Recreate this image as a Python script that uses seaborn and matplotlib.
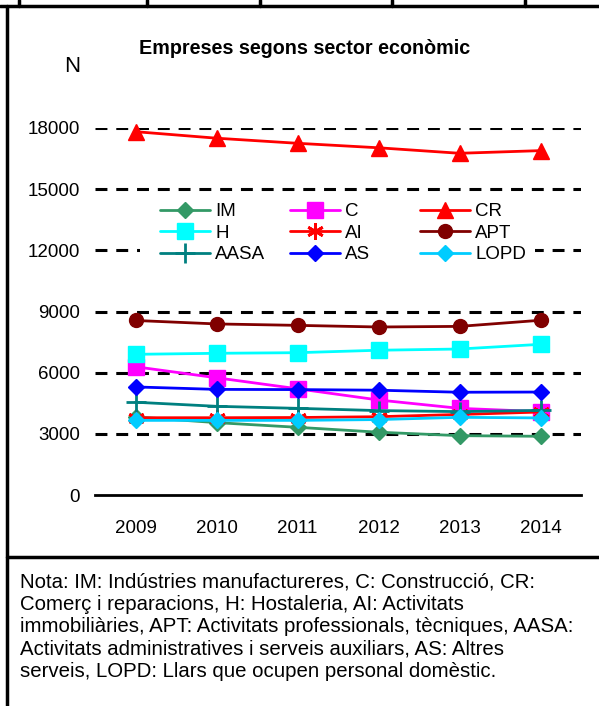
import numpy as np
import pandas as pd
import matplotlib
matplotlib.use('Agg')
import matplotlib.pyplot as plt
import seaborn as sns
from matplotlib.lines import Line2D
from matplotlib.patches import Rectangle

# Dades
anys = ['2009', '2010', '2011', '2012', '2013', '2014']
im = [3830, 3550, 3320, 3080, 2910, 2880]
c = [6290, 5750, 5210, 4660, 4250, 4090]
cr = [17820, 17500, 17250, 17030, 16760, 16890]
h = [6900, 6950, 6980, 7100, 7160, 7390]
ai = [3790, 3790, 3800, 3840, 3950, 4070]
apt = [8560, 8390, 8320, 8240, 8270, 8570]
aasa = [4550, 4350, 4250, 4140, 4090, 4150]
as_ = [5300, 5180, 5170, 5140, 5040, 5050]
lopd = [3660, 3660, 3660, 3700, 3810, 3780]

series = ['IM', 'C', 'CR', 'H', 'AI', 'APT', 'AASA', 'AS', 'LOPD']
valors = [im, c, cr, h, ai, apt, aasa, as_, lopd]

estils = {
    'IM':   dict(color='#339966', marker='D', ms=8),
    'C':    dict(color='#FF00FF', marker='s', ms=12),
    'CR':   dict(color='#FF0000', marker='^', ms=12),
    'H':    dict(color='#00FFFF', marker='s', ms=12),
    'AI':   dict(color='#FF0000', marker=(6, 2, 0), ms=12, mew=2),
    'APT':  dict(color='#800000', marker='o', ms=10),
    'AASA': dict(color='#008080', marker='+', ms=14, mew=2),
    'AS':   dict(color='#0000FF', marker='D', ms=8),
    'LOPD': dict(color='#00CCFF', marker='D', ms=8),
}

df = pd.DataFrame({'any': np.tile(np.arange(len(anys)), len(series)),
                   'serie': np.repeat(series, len(anys)),
                   'N': np.concatenate(valors)})

sns.set_style('white')
plt.rcParams['font.family'] = ['Liberation Sans', 'DejaVu Sans']
plt.rcParams['text.color'] = 'black'
plt.rcParams['xtick.color'] = 'black'
plt.rcParams['ytick.color'] = 'black'

W, H = 599, 706
fig = plt.figure(figsize=(W / 100, H / 100), dpi=100)
ax = fig.add_axes([95 / W, 1 - 495 / H, 486 / W, 367 / H])

for s in series:
    d = df[df['serie'] == s]
    st = estils[s]
    sns.lineplot(data=d, x='any', y='N', ax=ax, color=st['color'], lw=2,
                 marker=st['marker'], markersize=st['ms'],
                 markeredgewidth=st.get('mew', 1), markeredgecolor=st['color'],
                 label=s, clip_on=False, zorder=3)

ax.set_xlim(-0.5, 5.5)
ax.set_ylim(0, 18000)
ax.set_yticks(range(0, 18001, 3000))
ax.set_xticks(range(len(anys)))
ax.set_xticklabels(anys)
ax.set_xticks(np.arange(-0.5, 6, 1), minor=True)
for v in range(3000, 18001, 3000):
    ax.axhline(v, color='black', lw=2.2, ls=(0, (3.9, 2.9)), zorder=1)
for sp in ['top', 'right', 'left']:
    ax.spines[sp].set_visible(False)
ax.spines['bottom'].set_color('black')
ax.spines['bottom'].set_linewidth(2)
ax.tick_params(axis='y', length=0, pad=11, labelsize=13.5)
ax.tick_params(axis='x', which='major', length=0, pad=18, labelsize=13.5)
ax.tick_params(axis='x', which='minor', length=5, width=2, direction='out', color='black')
ax.set_xlabel('')
ax.set_ylabel('')

# llegenda: tres columnes d'amplada igual, fons blanc
fig.add_artist(Rectangle((140 / W, 1 - 268 / H), 395 / W, 70 / H,
                         transform=fig.transFigure, facecolor='white',
                         edgecolor='none', zorder=2))
hs, ls = ax.get_legend_handles_labels()
hmap = dict(zip(ls, hs))
ax.get_legend().remove()
columnes = [['IM', 'H', 'AASA'], ['C', 'AI', 'AS'], ['CR', 'APT', 'LOPD']]
for i, col in enumerate(columnes):
    lg = fig.legend([hmap[o] for o in col], col, ncol=1, frameon=False,
                    loc='upper left', bbox_to_anchor=((160 + 130 * i) / W, 1 - 203 / H),
                    fontsize=13.5, handlelength=2.67, handletextpad=0.27,
                    labelspacing=0.24, borderpad=0, borderaxespad=0)
    lg.set_zorder(4)

fig.text(305 / W, 1 - 49 / H, 'Empreses segons sector econòmic', ha='center',
         va='center', fontsize=14.2, fontweight='bold')
fig.text(72 / W, 1 - 67 / H, 'N', ha='center', va='center', fontsize=16)

nota = ("Nota: IM: Indústries manufactureres, C: Construcció, CR:\n"
        "Comerç i reparacions, H: Hostaleria, AI: Activitats\n"
        "immobiliàries, APT: Activitats professionals, tècniques, AASA:\n"
        "Activitats administratives i serveis auxiliars, AS: Altres\n"
        "serveis, LOPD: Llars que ocupen personal domèstic.")
fig.text(20 / W, 1 - 572 / H, nota, ha='left', va='top', fontsize=14.7,
         linespacing=1.24)

# vores de la taula
def linia(x0, y0, x1, y1, lw=2.5):
    fig.add_artist(Line2D([x0 / W, x1 / W], [1 - y0 / H, 1 - y1 / H],
                          color='black', lw=lw))

linia(0, 6, W, 6)
linia(7, 6, 7, H)
linia(7, 557, W, 557)
for xv in [19, 147, 260, 392, 525]:
    linia(xv, 0, xv, 6)

fig.savefig('out.png', dpi=100)
